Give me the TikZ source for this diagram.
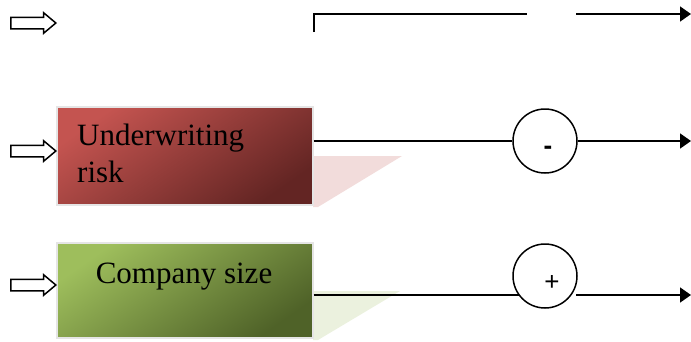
\documentclass[tikz,border=0pt]{standalone}
\usepackage{fontspec}
\setmainfont{Liberation Serif}
\newfontfamily\signfont{Liberation Sans}
\usetikzlibrary{arrows.meta,shapes.arrows}

\definecolor{risklight}{RGB}{196,84,80}
\definecolor{riskdark}{RGB}{99,37,35}
\definecolor{risksoft}{RGB}{242,220,219}
\definecolor{sizelight}{RGB}{158,190,92}
\definecolor{sizedark}{RGB}{79,98,40}
\definecolor{sizesoft}{RGB}{235,241,222}

\begin{document}
\begin{tikzpicture}[x=1pt,y=-1pt,
  inarrow/.style={single arrow, draw=black, line width=1.5pt, fill=white,
    minimum height=45pt, inner xsep=0pt, inner ysep=5pt,
    single arrow head extend=4.5pt, single arrow tip angle=80, anchor=tip},
  factor/.style={minimum width=256pt, inner sep=0pt, draw=white!90!black,
    line width=1.2pt},
  boxtext/.style={font=\fontsize{31}{37}\selectfont, inner sep=0pt, align=left},
  signtext/.style={font=\signfont, inner sep=0pt},
  sumnode/.style={circle, draw=black, line width=1.5pt, minimum size=64pt,
    inner sep=0pt, fill=white},
  link/.style={line width=1.6pt},
  flow/.style={link, -{Triangle[length=11pt,width=15pt]}}]
\useasboundingbox (0,0) rectangle (691,341);

% soft shadows beside the factor boxes
\fill[risksoft] (313,156) -- (402,156) -- (318,207) -- (313,207) -- cycle;
\fill[sizesoft] (313,291) -- (400,291) -- (318,340) -- (313,340) -- cycle;

% factor boxes, shaded from the upper left corner
\node[factor, minimum height=98pt, top color=risklight, bottom color=riskdark,
  shading angle=35] (risk) at (185,156) {};
\node[factor, minimum height=95pt, top color=sizelight, bottom color=sizedark,
  shading angle=35] (size) at (185,290.5) {};
\node[boxtext, anchor=base west] (risktext) at (77,182) {Underwriting\\risk};
\node[boxtext, anchor=base] (sizetext) at (184,283) {Company size};

% hollow input arrows
\node[inarrow] (in0) at (57,23) {};
\node[inarrow] (in1) at (57,151) {};
\node[inarrow] (in2) at (57,285) {};

% summing junctions
\node[sumnode] (sum1) at (545,141) {};
\node[sumnode] (sum2) at (545,276) {};
\node[signtext, font=\signfont\bfseries\fontsize{26}{26}\selectfont] (minus) at (548,150) {-};
\node[signtext, font=\signfont\fontsize{26}{26}\selectfont] (plus) at (552,283) {+};

% top feedback line
\coordinate (tstart) at (314,32);
\coordinate (tcorner) at (314,14);
\coordinate (tend) at (527,14);
\coordinate (tresume) at (576,14);
\coordinate (out0) at (691,14);
\draw[link] (tstart) -- (tcorner) -- (tend);
\draw[flow] (tresume) -- (out0);

% signal lines
\coordinate (out1) at (691,141);
\coordinate (out2) at (691,295);
\draw[link] (risk.east |- sum1.west) -- (sum1.west);
\draw[flow] (sum1.east) -- (out1);
\draw[link] (size.east |- out2) -- (sum2.216 |- out2);
\draw[flow] (tresume |- out2) -- (out2);
\end{tikzpicture}
\end{document}
